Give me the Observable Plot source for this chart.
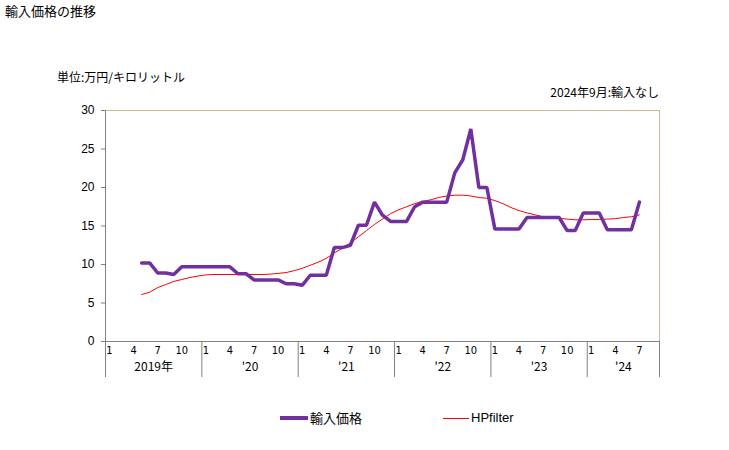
<!DOCTYPE html>
<html>
<head>
<meta charset="utf-8">
<script src="https://cdn.jsdelivr.net/npm/d3@7"></script>
<script src="https://cdn.jsdelivr.net/npm/@observablehq/plot@0.6"></script>
<style>
  body { margin: 0; background: #fff; font-family: "Noto Sans CJK JP", "Liberation Sans", sans-serif; }
  #wrap { position: relative; width: 729px; height: 450px; overflow: hidden; }
  #chart { position: absolute; left: 0; top: 0; }
  .t { position: absolute; font-size: 12px; color: #000; white-space: nowrap; line-height: 1; }
  .sw { position: absolute; height: 0; }
</style>
</head>
<body>
<div id="wrap">
  <div id="chart"></div>
  <div class="t" style="left:5px;top:4px;font-size:13px;">輸入価格の推移</div>
  <div class="t" style="left:57px;top:71px;">単位:万円/キロリットル</div>
  <div class="t" style="right:70px;top:86px;">2024年9月:輸入なし</div>
  <div class="sw" style="left:280px;top:416px;width:28px;border-top:4px solid #7030a0;"></div>
  <div class="t" style="left:310px;top:411px;font-size:13px;">輸入価格</div>
  <div class="sw" style="left:443px;top:418px;width:26px;border-top:1px solid #ff0000;"></div>
  <div class="t" style="left:471px;top:411px;font-size:13px;font-family:'Liberation Sans',sans-serif;">HPfilter</div>
</div>
<script>
// Axis: months Jan 2019 .. Sep 2024 (69 months)
const startYear = 2019;
const monthCount = 69;
const yearLabels = ["2019年", "'20", "'21", "'22", "'23", "'24"];
const monthTickLabels = ["1", "4", "7", "10"];
const yTicks = [0, 5, 10, 15, 20, 25, 30];

// Data from May 2019 (month index 4) to Jul 2024
const firstIndex = 4;
const importPrice = [
  10.2, 10.2, 8.9, 8.9, 8.7, 9.7, 9.7, 9.7,
  9.7, 9.7, 9.7, 9.7, 8.8, 8.8, 8.0, 8.0, 8.0, 8.0, 7.5, 7.5,
  7.3, 8.6, 8.6, 8.6, 12.2, 12.2, 12.5, 15.1, 15.1, 18.1, 16.4, 15.6,
  15.6, 15.6, 17.5, 18.1, 18.1, 18.1, 18.1, 21.9, 23.6, 27.6, 20.0, 20.0,
  14.6, 14.6, 14.6, 14.6, 16.1, 16.1, 16.1, 16.1, 16.1, 14.4, 14.4, 16.7,
  16.7, 16.7, 14.5, 14.5, 14.5, 14.5, 18.1
];
const hpFilter = [
  6.1, 6.4, 7.0, 7.4, 7.8, 8.05, 8.3, 8.5,
  8.65, 8.7, 8.7, 8.7, 8.7, 8.7, 8.7, 8.7, 8.75, 8.85, 8.95, 9.2,
  9.5, 9.9, 10.3, 10.8, 11.5, 12.1, 12.8, 13.6, 14.4, 15.2, 15.9, 16.6,
  17.1, 17.5, 17.9, 18.2, 18.4, 18.7, 18.9, 19.0, 19.0, 18.9, 18.7, 18.6,
  18.3, 17.9, 17.4, 17.0, 16.7, 16.45, 16.2, 16.1, 16.0, 15.9, 15.8, 15.8,
  15.85, 15.85, 15.9, 15.95, 16.1, 16.2, 16.45
];

const priceData = importPrice.map((v, k) => ({i: firstIndex + k, v}));
const hpData = hpFilter.map((v, k) => ({i: firstIndex + k, v}));

const monthTicks = [];
for (let m = 0; m < monthCount; m++) {
  const mo = (m % 12) + 1;
  if (monthTickLabels.includes(String(mo))) monthTicks.push({i: m, label: String(mo)});
}
const years = yearLabels.map((label, k) => {
  const s = k * 12;
  const e = Math.min(s + 12, monthCount);
  return {s, mid: (s + e) / 2, label};
});
const separators = years.map(d => d.s).concat([monthCount]);

const W = 729, H = 450;
const mL = 105, mR = 70, mT = 110, mB = 109;
const plotH = H - mT - mB;

const chart = Plot.plot({
  width: W,
  height: H,
  marginLeft: mL,
  marginRight: mR,
  marginTop: mT,
  marginBottom: mB,
  style: {fontFamily: "'Liberation Sans', sans-serif", fontSize: "12px", color: "#000", background: "transparent"},
  x: {domain: [0, monthCount], axis: null},
  y: {domain: [0, 30], ticks: yTicks, tickSize: 4, tickPadding: 7, label: null, tickFormat: d => d},
  marks: [
    Plot.ruleY([30], {stroke: "#c8bc8c"}),
    Plot.ruleX([monthCount], {stroke: "#c8bc8c"}),
    Plot.ruleY([0], {stroke: "#808080"}),
    Plot.ruleX([0], {stroke: "#808080"}),
    Plot.ruleX(separators, {x: d => d, stroke: "#808080", insetTop: plotH, insetBottom: -36}),
    Plot.text(monthTicks, {x: d => d.i + 0.5, y: 0, text: "label", dy: 9, fontSize: 11, fontFamily: "'DejaVu Sans Condensed', sans-serif", fill: "#000"}),
    Plot.text(years, {x: "mid", y: 0, text: "label", dy: 26, fontSize: 12, fontFamily: "'Noto Sans CJK JP', sans-serif", fill: "#000"}),
    Plot.line(hpData, {x: d => d.i + 0.5, y: "v", stroke: "#ff0000", strokeWidth: 1}),
    Plot.line(priceData, {x: d => d.i + 0.5, y: "v", stroke: "#7030a0", strokeWidth: 3.5, strokeLinejoin: "miter"})
  ]
});
chart.querySelectorAll('[aria-label="y-axis tick"] path, [aria-label="y-axis tick"] line').forEach(el => el.setAttribute("stroke", "#808080"));
document.getElementById("chart").appendChild(chart);
</script>
</body>
</html>
